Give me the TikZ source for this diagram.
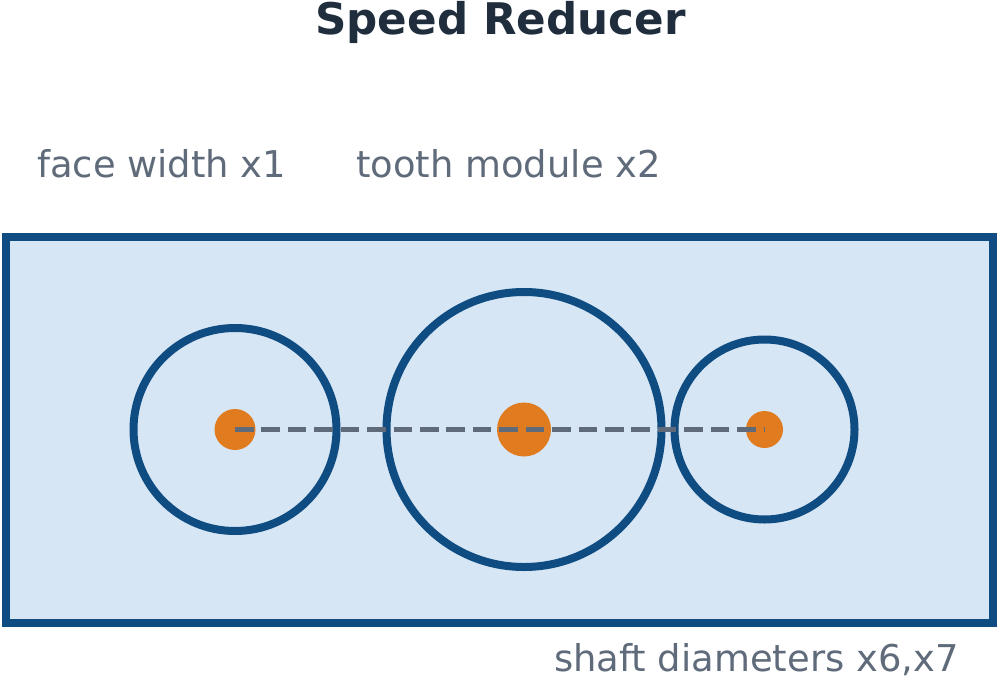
\documentclass[tikz,border=0pt]{standalone}
\usepackage{fontspec}
\setmainfont{DejaVu Sans}
\definecolor{navy}{HTML}{0F4C81}
\definecolor{pale}{HTML}{D7E6F5}
\definecolor{hub}{HTML}{E07B20}
\definecolor{slate}{HTML}{5F6B7A}
\definecolor{ink}{HTML}{1F2D3D}
\tikzset{
 px/.style={x=1pt,y=-1pt},
 gear/.style={circle,draw=navy,line width=8pt,inner sep=0pt,outer sep=0pt},
 shaft/.style={circle,fill=hub,inner sep=0pt,outer sep=0pt},
 lab/.style={text=slate,font=\fontsize{36.9}{40}\selectfont,inner sep=0pt,anchor=base west},
 ttl/.style={text=ink,font=\fontsize{43.6}{46}\selectfont\bfseries,inner sep=0pt,anchor=base},
 axis/.style={draw=slate,line width=5pt,dash pattern=on 18.5pt off 7.93pt}
}
\begin{document}
\begin{tikzpicture}[px]
\useasboundingbox (0,0) rectangle (1000,677);
\node[draw=navy,fill=pale,line width=8pt,minimum width=987pt,minimum height=386pt,inner sep=0pt,outer sep=0pt] (box) at (499.8,429.5) {};
\node[gear,minimum size=203pt] (g1) at (235,429.5) {};
\node[gear,minimum size=275pt] (g2) at (524,429.5) {};
\node[gear,minimum size=180pt] (g3) at (764.5,429.5) {};
\node[shaft,minimum size=41pt] (s1) at (235,429.5) {};
\node[shaft,minimum size=54pt] (s2) at (524,429.5) {};
\node[shaft,minimum size=37pt] (s3) at (764.5,429.5) {};
\draw[axis] (s1.center) -- (s3.center);
\node[ttl] (t) at (500.5,35) {Speed Reducer};
\node[lab] (a) at (37,177) {face width x1};
\node[lab] (b) at (356,177) {tooth module x2};
\node[lab] (c) at (554,671) {shaft diameters x6,x7};
\end{tikzpicture}
\end{document}
